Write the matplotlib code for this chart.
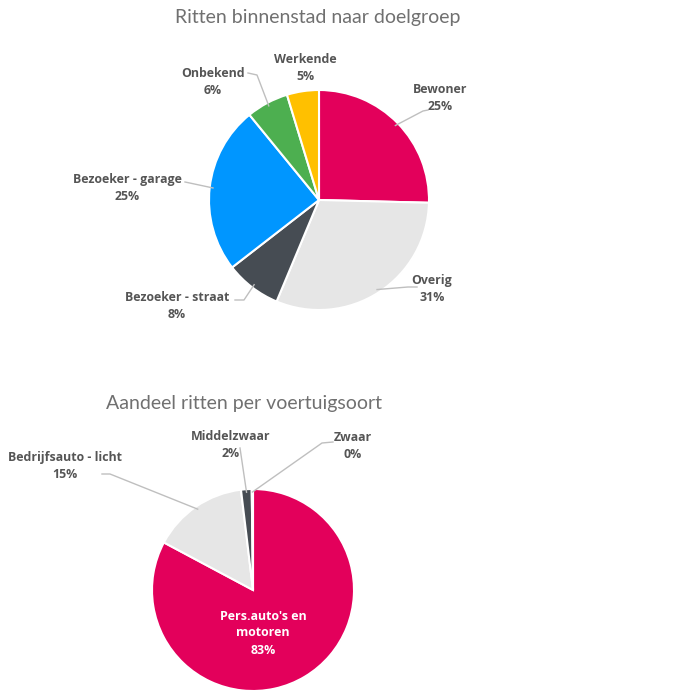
import numpy as np
import matplotlib.pyplot as plt

# data
groups = ['Bewoner', 'Overig', 'Bezoeker - straat', 'Bezoeker - garage', 'Onbekend', 'Werkende']
group_pct = [25.4, 30.9, 8.2, 24.6, 6.2, 4.7]
group_colors = ['#E3005B', '#E6E6E6', '#464C53', '#0096FF', '#4DAF50', '#FFC000']

vehicles = ["Pers.auto's en\nmotoren", 'Bedrijfsauto - licht', 'Middelzwaar', 'Zwaar']
vehicle_pct = [82.8, 15.3, 1.7, 0.2]
vehicle_colors = ['#E3005B', '#E6E6E6', '#464C53', '#464C53']

W, H = 674, 693
fig = plt.figure(figsize=(W / 100, H / 100), dpi=100)
ax = fig.add_axes([0, 0, 1, 1])

txt_color = '#555555'
line_color = '#BFBFBF'
font = 'Open Sans'


def px(x, y):
    # convert image pixel coords to data coords
    return x, H - y


def draw_pie(values, colors, center, radius):
    wedges, _ = ax.pie(values, colors=colors, startangle=90, counterclock=False,
                       center=px(*center), radius=radius,
                       wedgeprops=dict(edgecolor='white', linewidth=1.5))
    return wedges


def edge_point(wedge, center, radius, frac=1.0):
    ang = np.deg2rad((wedge.theta1 + wedge.theta2) / 2)
    cx, cy = px(*center)
    return cx + radius * frac * np.cos(ang), cy + radius * frac * np.sin(ang)


def label(text, pos, wedge=None, center=None, radius=None, elbow=None, color=txt_color):
    ax.text(*px(*pos), text, ha='center', va='center', fontsize=8.9, fontweight='bold',
            color=color, family=font, linespacing=1.4)
    if wedge is not None and elbow is not None:
        ex, ey = edge_point(wedge, center, radius, 0.97)
        pts = [px(*p) for p in elbow] + [(ex, ey)]
        xs, ys = zip(*pts)
        ax.plot(xs, ys, color=line_color, lw=1)


def title(text, pos):
    ax.text(*px(*pos), text, ha='center', va='center', fontsize=14,
            color='#707070', family='Lato')


# pie 1
c1, r1 = (319, 200), 110
w1 = draw_pie(group_pct, group_colors, c1, r1)
title('Ritten binnenstad naar doelgroep', (318, 17))

label('Bewoner\n25%', (440, 98), w1[0], c1, r1, [(428, 110), (423, 111)])
label('Overig\n31%', (432, 289), w1[1], c1, r1, [(417, 287), (408, 287)])
label('Bezoeker - straat\n8%', (177, 306), w1[2], c1, r1, [(235, 300), (244, 300)])
label('Bezoeker - garage\n25%', (127, 188), w1[3], c1, r1, [(185, 182)])
label('Onbekend\n6%', (213, 82), w1[4], c1, r1, [(248, 73), (257, 75)])
label('Werkende\n5%', (305, 68))

# pie 2
c2, r2 = (253, 590), 101
w2 = draw_pie(vehicle_pct, vehicle_colors, c2, r2)
title('Aandeel ritten per voertuigsoort', (244, 403))

label("Pers.auto's en\nmotoren\n83%", (263, 633), color='white')
label('Bedrijfsauto - licht\n15%', (65, 466), w2[1], c2, r2, [(102, 474), (110, 474)])
label('Middelzwaar\n2%', (231, 445), w2[2], c2, r2, [(240, 448)])
label('Zwaar\n0%', (353, 446), w2[3], c2, r2, [(333, 442), (322, 443)])

# pie() resets the limits, so set the pixel frame afterwards
ax.set_xlim(0, W)
ax.set_ylim(0, H)
ax.set_aspect('equal')
ax.axis('off')

fig.savefig('out.png', dpi=100, facecolor='white')
